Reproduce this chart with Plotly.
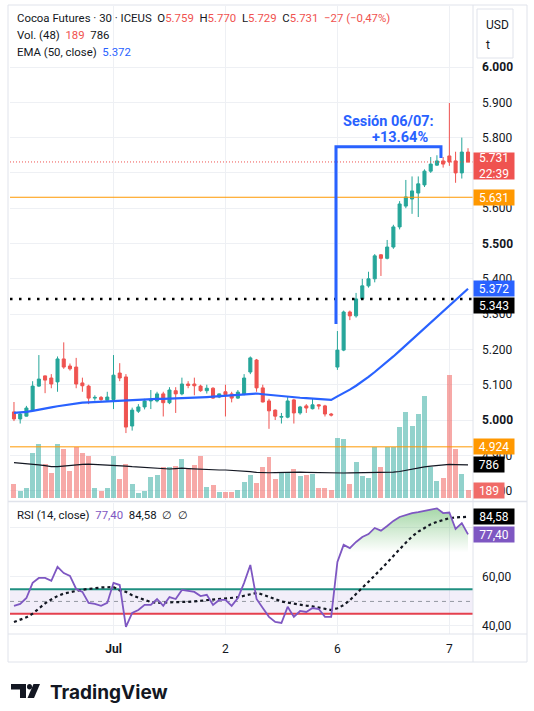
import plotly.graph_objects as go

# ---------------- data ----------------
day_ticks = [16, 34, 52, 70]
day_labels = ["<b>Jul</b>", "2", "6", "7"]

opens = [5.023, 5.003, 5.011, 5.028, 5.096, 5.125, 5.119, 5.108, 5.173, 5.153, 5.150, 5.105, 5.096, 5.062, 5.064, 5.056,
         5.058, 5.133, 5.122, 4.983, 5.025, 5.037, 5.054, 5.054, 5.074, 5.049, 5.083, 5.074, 5.102, 5.102, 5.096, 5.083, 5.090, 5.065,
         5.080, 5.074, 5.062, 5.074, 5.136, 5.170, 5.091, 5.054, 5.028, 5.008, 5.008, 5.057, 5.020, 5.040, 5.032, 5.043, 5.040, 5.017,
         5.150, 5.198, 5.306, 5.295, 5.343, 5.380, 5.400, 5.468, 5.458, 5.490, 5.547, 5.606, 5.626, 5.643, 5.666, 5.705, 5.722, 5.734,
         5.748, 5.734, 5.700, 5.759]
highs = [5.051, 5.020, 5.040, 5.110, 5.184, 5.126, 5.130, 5.180, 5.220, 5.160, 5.176, 5.120, 5.100, 5.070, 5.068, 5.080,
         5.184, 5.161, 5.130, 5.035, 5.045, 5.060, 5.085, 5.080, 5.080, 5.093, 5.093, 5.120, 5.110, 5.120, 5.100, 5.100, 5.093, 5.075,
         5.100, 5.080, 5.085, 5.130, 5.180, 5.173, 5.100, 5.060, 5.030, 5.020, 5.065, 5.060, 5.040, 5.045, 5.060, 5.045, 5.043, 5.020,
         5.252, 5.310, 5.310, 5.360, 5.400, 5.420, 5.470, 5.470, 5.510, 5.553, 5.620, 5.680, 5.690, 5.690, 5.710, 5.745, 5.750, 5.745,
         5.898, 5.760, 5.800, 5.770]
lows = [4.997, 4.990, 5.010, 5.025, 5.094, 5.076, 5.090, 5.080, 5.145, 5.140, 5.090, 5.080, 5.045, 5.055, 5.054, 5.055,
        5.031, 5.110, 4.963, 4.970, 5.020, 5.030, 5.031, 5.050, 5.010, 5.045, 5.020, 5.070, 5.090, 5.070, 5.080, 5.075, 5.060, 5.062,
        5.010, 5.050, 5.060, 5.070, 5.130, 5.080, 5.050, 4.975, 5.000, 4.990, 5.005, 4.990, 5.015, 5.020, 5.030, 5.030, 5.010, 5.010,
        5.142, 5.195, 5.283, 5.290, 5.340, 5.375, 5.390, 5.408, 5.455, 5.485, 5.540, 5.600, 5.584, 5.575, 5.660, 5.700, 5.720, 5.715,
        5.720, 5.672, 5.684, 5.729]
closes = [5.003, 5.017, 5.034, 5.096, 5.116, 5.113, 5.102, 5.173, 5.150, 5.145, 5.102, 5.097, 5.062, 5.064, 5.058, 5.065,
          5.127, 5.119, 4.980, 5.028, 5.037, 5.054, 5.056, 5.074, 5.049, 5.085, 5.074, 5.102, 5.098, 5.097, 5.083, 5.090, 5.062, 5.074,
          5.072, 5.062, 5.079, 5.119, 5.176, 5.091, 5.051, 5.026, 5.011, 5.010, 5.054, 5.020, 5.037, 5.034, 5.043, 5.040, 5.017, 5.014,
          5.198, 5.306, 5.295, 5.343, 5.380, 5.400, 5.465, 5.458, 5.490, 5.547, 5.612, 5.632, 5.649, 5.669, 5.705, 5.725, 5.734, 5.725,
          5.731, 5.700, 5.759, 5.731]
volumes = [333, 167, 238, 1071, 1285, 809, 595, 1285, 1166, 643, 1214, 1071, 1000, 238, 167, 238,
           1000, 452, 809, 333, 119, 167, 500, 547, 738, 738, 762, 928, 714, 785, 1000, 262, 309, 143,
           143, 143, 190, 381, 547, 357, 738, 976, 452, 595, 619, 690, 524, 547, 571, 238, 238, 190,
           1428, 1404, 333, 857, 524, 476, 1214, 738, 1214, 1214, 1690, 2047, 1714, 1999, 2428, 738, 405, 476,
           2927, 1166, 571, 189]
vol_ma = [840, 830, 820, 810, 790, 770, 745, 745, 760, 780, 790, 800, 805, 800, 795, 790,
          785, 775, 760, 745, 735, 725, 710, 700, 690, 690, 700, 710, 700, 690, 680, 672, 668, 666,
          666, 660, 650, 640, 625, 610, 600, 600, 605, 612, 618, 618, 615, 610, 605, 600, 598, 595,
          595, 595, 596, 597, 598, 600, 600, 602, 605, 615, 630, 660, 690, 715, 740, 760, 775, 785,
          800, 795, 790, 786]
ema50 = [5.020, 5.021, 5.023, 5.026, 5.030, 5.033, 5.036, 5.039, 5.042, 5.045, 5.047, 5.049, 5.050, 5.051, 5.052, 5.053,
         5.054, 5.055, 5.055, 5.056, 5.057, 5.058, 5.059, 5.060, 5.060, 5.061, 5.062, 5.063, 5.063, 5.064, 5.065, 5.065, 5.066, 5.067,
         5.068, 5.069, 5.070, 5.072, 5.074, 5.075, 5.073, 5.071, 5.069, 5.067, 5.066, 5.065, 5.063, 5.062, 5.061, 5.059, 5.058, 5.057,
         5.067, 5.076, 5.086, 5.097, 5.109, 5.122, 5.136, 5.150, 5.165, 5.180, 5.196, 5.212, 5.228, 5.244, 5.260, 5.276, 5.292, 5.308,
         5.324, 5.340, 5.356, 5.372]
rsi = [48.2, 49.0, 51.4, 57.6, 59.6, 59.6, 58.4, 64.1, 61.6, 60.4, 55.1, 53.9, 49.4, 49.0, 48.2, 49.4,
       57.6, 56.7, 39.6, 45.3, 46.5, 48.6, 48.6, 51.0, 48.2, 51.8, 51.0, 54.7, 54.3, 53.9, 52.2, 52.7, 48.6, 50.6,
       50.6, 48.2, 51.4, 57.6, 64.9, 51.0, 47.3, 43.7, 41.6, 41.2, 47.8, 43.7, 46.1, 45.7, 47.3, 46.9, 43.7, 43.7,
       66.1, 73.1, 71.8, 74.3, 76.3, 77.5, 80.0, 78.9, 80.8, 82.9, 84.5, 85.3, 86.1, 86.5, 87.0, 87.7, 88.0, 86.1,
       86.3, 79.6, 82.0, 77.40]
rsi_ma = [41.6, 42.5, 43.5, 45.0, 47.0, 49.2, 50.8, 52.2, 53.2, 53.9, 54.3, 54.8, 55.2, 55.5, 55.7, 55.8,
          55.9, 54.5, 53.9, 52.5, 51.4, 50.6, 49.8, 49.4, 49.5, 49.7, 49.8, 49.8, 49.8, 50.0, 50.3, 50.6, 50.7, 50.9,
          51.0, 51.3, 51.7, 52.3, 53.0, 53.5, 52.8, 51.8, 50.8, 50.0, 49.5, 49.0, 48.6, 48.3, 48.0, 47.6, 47.0, 46.5,
          47.2, 48.5, 50.5, 53.2, 55.6, 58.0, 60.5, 62.9, 65.8, 68.6, 71.5, 74.0, 76.5, 78.5, 80.0, 81.5, 82.5, 83.3,
          84.0, 84.3, 84.5, 84.58]

price_ticks = [4.8, 4.9, 5.0, 5.1, 5.2, 5.3, 5.4, 5.5, 5.6, 5.7, 5.8, 5.9, 6.0]
bold_ticks = [5.0, 5.5, 6.0]
hidden_price_ticks = [5.7]          # fully covered by the last-price tag in the reference
rsi_ticks = [40, 60, 80]
hidden_rsi_ticks = [80]             # fully covered by the RSI tags in the reference
orange_levels = [5.631, 4.924]
dotted_level = 5.343
rsi_upper, rsi_mid, rsi_lower, rsi_ob = 55, 50, 45, 70
bracket_x = [51.77, 51.77, 68.65, 68.65]
bracket_y = [5.272, 5.774, 5.774, 5.742]

# ---------------- geometry ----------------
W, H = 534, 711
PL, PR, PT, PB = 10, 473, 6, 634
FONT = "Roboto, 'Open Sans', sans-serif"
UP, DN = "#26a69a", "#ef5350"
UPV, DNV = "rgba(38,166,154,0.5)", "rgba(239,83,80,0.5)"
GRID = "#eef0f4"
BORDER = "#e0e3eb"
BLUE = "#2962ff"
PURPLE = "#7e57c2"


def fx(px):
    return (px - PL) / (PR - PL)


def fy(py):
    return (PB - py) / (PB - PT)


n = len(closes)
xs = list(range(n))
vol_colors = [UPV if c >= o else DNV for o, c in zip(opens, closes)]
x0d, x1d = -0.64, 73.8

fig = go.Figure()

# main pane
fig.add_trace(go.Candlestick(
    x=xs, open=opens, high=highs, low=lows, close=closes,
    increasing=dict(line=dict(color=UP, width=1), fillcolor=UP),
    decreasing=dict(line=dict(color=DN, width=1), fillcolor=DN),
    whiskerwidth=0, xaxis="x", yaxis="y", hoverinfo="skip"))
fig.add_trace(go.Scatter(x=xs, y=ema50, mode="lines", line=dict(color=BLUE, width=2.2),
                         xaxis="x", yaxis="y", hoverinfo="skip"))
# volume overlay
fig.add_trace(go.Bar(x=xs, y=volumes, marker=dict(color=vol_colors, line=dict(width=0)), width=0.8,
                     xaxis="x", yaxis="y3", hoverinfo="skip"))
fig.add_trace(go.Scatter(x=xs, y=vol_ma, mode="lines", line=dict(color="#131722", width=1.2),
                         xaxis="x", yaxis="y3", hoverinfo="skip"))

# RSI pane: band fill and levels across the full x-range
fig.add_trace(go.Scatter(x=[x0d, x1d], y=[rsi_lower, rsi_lower], mode="lines",
                         line=dict(color="#e5404e", width=2), xaxis="x2", yaxis="y2", hoverinfo="skip"))
fig.add_trace(go.Scatter(x=[x0d, x1d], y=[rsi_upper, rsi_upper], mode="lines", fill="tonexty",
                         fillcolor="rgba(126,87,194,0.10)",
                         line=dict(color="#1f8f80", width=2), xaxis="x2", yaxis="y2", hoverinfo="skip"))
fig.add_trace(go.Scatter(x=[x0d, x1d], y=[rsi_mid, rsi_mid], mode="lines",
                         line=dict(color="#9598a1", width=1, dash="4px,4px"), xaxis="x2", yaxis="y2",
                         hoverinfo="skip"))
ob_idx = [i for i in xs if rsi[i] > rsi_ob and i >= 53]
fig.add_trace(go.Scatter(x=ob_idx, y=[rsi_ob for _ in ob_idx], mode="lines", line=dict(width=0),
                         xaxis="x2", yaxis="y2", hoverinfo="skip"))
fig.add_trace(go.Scatter(x=ob_idx, y=[rsi[i] for i in ob_idx], mode="lines", line=dict(width=0),
                         fill="tonexty",
                         fillgradient=dict(type="vertical", start=rsi_ob, stop=90,
                                           colorscale=[[0, "rgba(76,175,80,0)"], [1, "rgba(76,175,80,0.55)"]]),
                         xaxis="x2", yaxis="y2", hoverinfo="skip"))
fig.add_trace(go.Scatter(x=xs, y=rsi_ma, mode="lines", line=dict(color="#131722", width=2.2, dash="dot"),
                         xaxis="x2", yaxis="y2", hoverinfo="skip"))
fig.add_trace(go.Scatter(x=xs, y=rsi, mode="lines", line=dict(color=PURPLE, width=1.8),
                         xaxis="x2", yaxis="y2", hoverinfo="skip"))


def price_label(v):
    if v in hidden_price_ticks:
        return ""
    return ("<b>%.3f</b>" % v) if v in bold_ticks else "%.3f" % v


xr = [x0d, x1d]
fig.update_layout(
    width=W, height=H, margin=dict(l=PL, r=W - PR, t=PT, b=H - PB),
    paper_bgcolor="white", plot_bgcolor="white", showlegend=False, hovermode=False,
    font=dict(family=FONT, size=12, color="#131722"), bargap=0,
    xaxis=dict(domain=[0, 1], range=xr, anchor="y", tickvals=day_ticks, showticklabels=False,
               showgrid=True, gridcolor=GRID, zeroline=False, ticks="", rangeslider=dict(visible=False)),
    xaxis2=dict(domain=[0, 1], range=xr, anchor="y2", tickvals=day_ticks, ticktext=day_labels,
                showgrid=True, gridcolor=GRID, zeroline=False, ticks="", ticklabelstandoff=6,
                tickfont=dict(size=12, color="#131722")),
    yaxis=dict(domain=[fy(500), 1], range=[4.7734, 6.1728], side="right", anchor="x",
               tickvals=price_ticks, ticktext=[price_label(v) for v in price_ticks],
               showgrid=True, gridcolor=GRID, zeroline=False, ticks="", ticklabelstandoff=8,
               tickfont=dict(size=12, color="#131722")),
    yaxis2=dict(domain=[0, fy(503)], range=[36.7, 90.2], side="right", anchor="x2",
                tickvals=rsi_ticks,
                ticktext=["" if v in hidden_rsi_ticks else "%d,00" % v for v in rsi_ticks],
                showgrid=True, gridcolor=GRID, zeroline=False, ticks="", ticklabelstandoff=8,
                tickfont=dict(size=12, color="#131722")),
    yaxis3=dict(overlaying="y", anchor="x", range=[-48, 11710], visible=False),
)

shapes = []
# main horizontal levels
for lv in orange_levels:
    shapes.append(dict(type="line", xref="paper", yref="y", x0=0, x1=1, y0=lv, y1=lv,
                       line=dict(color="#ff9800", width=1)))
shapes.append(dict(type="line", xref="paper", yref="y", x0=0, x1=1, y0=dotted_level, y1=dotted_level,
                   line=dict(color="#000000", width=2.5, dash="2.5px,6.5px")))
shapes.append(dict(type="line", xref="paper", yref="y", x0=0, x1=1, y0=closes[-1], y1=closes[-1],
                   line=dict(color="#ef5350", width=1, dash="1px,2px")))
# bracket
path = "M %s,%s L %s,%s L %s,%s L %s,%s" % (bracket_x[0], bracket_y[0], bracket_x[1], bracket_y[1],
                                            bracket_x[2], bracket_y[2], bracket_x[3], bracket_y[3])
shapes.append(dict(type="path", xref="x", yref="y", path=path, line=dict(color=BLUE, width=3)))
# frame / separators
shapes.append(dict(type="rect", xref="paper", yref="paper", x0=fx(8), x1=fx(527), y0=fy(662), y1=fy(5),
                   line=dict(color=BORDER, width=1)))
shapes.append(dict(type="line", xref="paper", yref="paper", x0=fx(8), x1=fx(527), y0=fy(501.5), y1=fy(501.5),
                   line=dict(color=BORDER, width=1.5)))
shapes.append(dict(type="line", xref="paper", yref="paper", x0=fx(8), x1=fx(527), y0=fy(634), y1=fy(634),
                   line=dict(color=BORDER, width=1)))
shapes.append(dict(type="line", xref="paper", yref="paper", x0=fx(473), x1=fx(473), y0=fy(662), y1=fy(5),
                   line=dict(color=BORDER, width=1)))
# currency box
shapes.append(dict(type="rect", xref="paper", yref="paper", x0=fx(477), x1=fx(513), y0=fy(58), y1=fy(9),
                   line=dict(color=BORDER, width=1), fillcolor="white"))


# logo glyph
def pth(pts):
    return "M " + " L ".join("%f,%f" % (fx(a), fy(b)) for a, b in pts) + " Z"


shapes.append(dict(type="path", xref="paper", yref="paper",
                   path=pth([(11, 684), (26, 684), (26, 698), (20, 698), (20, 689.5), (11, 689.5)]),
                   fillcolor="#131722", line=dict(width=0)))
shapes.append(dict(type="circle", xref="paper", yref="paper", x0=fx(27), x1=fx(32), y0=fy(689.5), y1=fy(684),
                   fillcolor="#131722", line=dict(width=0)))
shapes.append(dict(type="path", xref="paper", yref="paper",
                   path=pth([(33.5, 684), (40, 684), (34, 698), (27.5, 698)]),
                   fillcolor="#131722", line=dict(width=0)))
fig.update_layout(shapes=shapes)

# ---------------- text ----------------
RED = "#f0524f"


def sp(t, c):
    return "<span style='color:%s'>%s</span>" % (c, t)


NB = "\u00a0"
anns = []


def txt(text, px, py, size=12, xanchor="left", color="#131722", bold=False, family=FONT):
    anns.append(dict(text=("<b>%s</b>" % text) if bold else text, x=fx(px), y=fy(py), xref="paper",
                     yref="paper", xanchor=xanchor, yanchor="middle", showarrow=False,
                     font=dict(size=size, color=color, family=family)))


line1 = ("Cocoa Futures · 30 · ICEUS" + NB * 2 + "O" + sp("%.3f" % opens[-1], RED) + NB * 2 + "H" +
         sp("%.3f" % highs[-1], RED) + NB * 2 + "L" + sp("%.3f" % lows[-1], RED) + NB * 2 + "C" +
         sp("%.3f" % closes[-1], RED) + NB * 2 + sp("−27 (−0,47%)", RED))
txt(line1, 15, 18, size=11.4)
txt("Vol. (48)" + NB * 2 + sp(str(volumes[-1]), RED) + NB * 2 + str(vol_ma[-1]), 15, 35, size=11.4)
txt("EMA (50, close)" + NB * 2 + sp("%.3f" % ema50[-1], BLUE), 15, 52, size=11.4)
txt("RSI (14, close)" + NB * 2 + sp(("%.2f" % rsi[-1]).replace(".", ","), PURPLE) + NB * 2 +
    ("%.2f" % rsi_ma[-1]).replace(".", ",") + NB * 2 + "∅" + NB * 2 + "∅", 15, 515, size=11.4)
txt("USD", 484, 25)
txt("t", 484, 45)
txt("Sesión 06/07:", 388, 122, size=14.5, xanchor="center", color=BLUE, bold=True)
txt("+13.64%", 400, 138, size=14.5, xanchor="center", color=BLUE, bold=True)
txt("<b>TradingView</b>", 48, 692, size=19, family="Inter, Roboto, sans-serif")


def tag(text, y, yref, bg, w=40, h=15, yshift=0):
    anns.append(dict(text=text, x=1, xref="paper", xanchor="left", y=y, yref=yref, yanchor="middle",
                     yshift=yshift, showarrow=False, bgcolor=bg, width=w, height=h, borderpad=0,
                     align="center", font=dict(size=12, color="white", family=FONT)))


tag("%.3f<br>22:39" % closes[-1], closes[-1], "y", "#ef5350", h=26, yshift=-4)
tag("%.3f" % orange_levels[0], orange_levels[0], "y", "#ff9800")
tag("%.3f" % ema50[-1], ema50[-1], "y", BLUE)
tag("%.3f" % dotted_level, dotted_level, "y", "#000000", yshift=-7)
tag("%.3f" % orange_levels[1], orange_levels[1], "y", "#ff9800")
tag(str(vol_ma[-1]), vol_ma[-1], "y3", "#000000", w=30)
tag(str(volumes[-1]), volumes[-1], "y3", "#f06b68", w=30)
tag(("%.2f" % rsi_ma[-1]).replace(".", ","), rsi_ma[-1], "y2", "#000000")
tag(("%.2f" % rsi[-1]).replace(".", ","), rsi[-1], "y2", PURPLE)

fig.update_layout(annotations=anns)
fig.write_html("out.html")
